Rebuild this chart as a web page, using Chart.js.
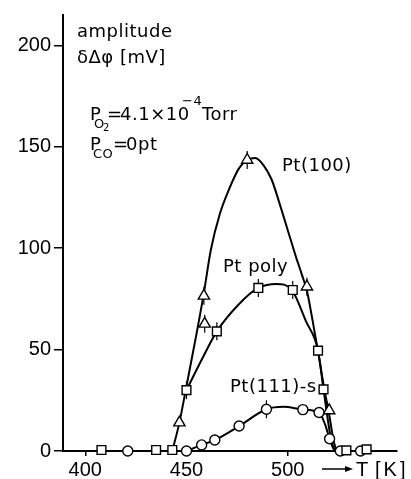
<!DOCTYPE html>
<html>
<head>
<meta charset="utf-8">
<script src="https://cdn.jsdelivr.net/npm/chart.js@4/dist/chart.umd.min.js"></script>
<style>
  body { margin: 0; background: #fff; }
  #wrap { width: 411px; height: 479px; position: relative; }
</style>
</head>
<body>
<div id="wrap"><canvas id="chart"></canvas></div>
<script>
// measured markers (T in K, amplitude in mV)
const triT = [446.5, 458.6, 459, 480, 509.5, 520.5];
const triV = [14, 76.5, 62.7, 143.5, 81, 20];
const sqT = [408, 435, 443, 450, 465, 485.5, 502.5, 515, 517.7, 529, 539];
const sqV = [0.5, 0.5, 0.5, 30, 59, 80.4, 79.4, 49.5, 30.4, 0.3, 0.8];
const circT = [421, 450, 457.5, 464, 476, 489.5, 507.5, 515.5, 520.7, 526, 536];
const circV = [0, 0, 3, 5.4, 12.3, 20.6, 20.4, 19, 6, 0, 0];

// error bar ticks
const errT = [450, 458.6, 459, 465, 480, 485.5, 489.5, 502.5, 509.5];
const errV = [30, 76.5, 62.7, 59, 143.5, 80.4, 20.6, 79.4, 81];

// drawn curves
const c100T = [443, 446.5, 450, 455, 458.6, 462, 466.5, 471, 476, 480, 484, 488, 492, 496, 500, 504, 507, 509.5, 512, 515, 518, 520.5, 522.5, 524];
const c100V = [0, 14, 32, 58, 78, 99, 117, 129, 139.5, 143.5, 144.5, 141, 134, 122, 109, 96, 87, 79, 66, 49, 31, 18, 6, 0];
const cPolyT = [450, 458, 465, 476, 485.5, 494.5, 502, 509, 515, 517.7, 521, 523];
const cPolyV = [30, 46, 59, 72.5, 80.4, 82.4, 79.4, 64, 49.5, 30.4, 8, 0];
const c111T = [450, 457.5, 464, 476, 489.5, 498, 507.5, 515.5, 518.5, 520.7, 522.5, 524];
const c111V = [0, 3, 5.4, 12.3, 20.6, 21.8, 20.5, 19, 13, 6, 1.5, 0];

const yTicks = [0, 50, 100, 150, 200];
const xTicks = [400, 450, 500];

function pts(xs, ys) {
  return xs.map((x, i) => ({ x: x, y: ys[i] }));
}

function marker(data, style, r) {
  return {
    data: data, showLine: false, pointStyle: style, pointRadius: r,
    pointBackgroundColor: "#fff", pointBorderColor: "#000", pointBorderWidth: 1.4, clip: false,
  };
}

function curve(data) {
  return {
    data: data, showLine: true, borderColor: "#000", borderWidth: 2,
    pointRadius: 0, cubicInterpolationMode: "monotone", clip: false,
  };
}

// labels and little notes on the plot
const notes = {
  id: "notes",
  afterDraw(chart) {
    const ctx = chart.ctx;
    ctx.save();
    ctx.fillStyle = "#000";
    ctx.strokeStyle = "#000";
    ctx.textBaseline = "alphabetic";
    ctx.letterSpacing = "0.5px";
    const f = (s) => s + "px 'DejaVu Sans'";
    ctx.font = f(18);
    ctx.fillText("amplitude", 77, 37);
    ctx.fillText("\u03b4\u0394\u03c6 [mV]", 77, 63);

    ctx.fillText("P", 90, 120);
    ctx.font = f(13);
    ctx.fillText("O", 94, 128);
    ctx.font = f(10);
    ctx.fillText("2", 103, 131);
    ctx.font = f(18);
    ctx.fillText("=", 107, 120);
    ctx.fillText("4.1\u00d710", 120, 120);
    ctx.font = f(13);
    ctx.fillText("\u22124", 182, 105);
    ctx.font = f(18);
    ctx.fillText("Torr", 202, 120);

    ctx.fillText("P", 90, 150);
    ctx.font = f(13);
    ctx.fillText("CO", 93, 158);
    ctx.font = f(18);
    ctx.fillText("=", 113, 150);
    ctx.fillText("0pt", 126, 150);

    ctx.fillText("Pt(100)", 282, 171);
    ctx.fillText("Pt poly", 223, 272);
    ctx.fillText("Pt(111)-s", 230, 392);

    // T axis arrow
    ctx.lineWidth = 1.5;
    ctx.beginPath();
    ctx.moveTo(322, 469);
    ctx.lineTo(348, 469);
    ctx.stroke();
    ctx.beginPath();
    ctx.moveTo(353, 469);
    ctx.lineTo(345, 466);
    ctx.lineTo(345, 472);
    ctx.closePath();
    ctx.fill();
    ctx.font = "20px 'Liberation Sans'";
    ctx.letterSpacing = "3px";
    ctx.fillText("T", 356, 476);
    ctx.fillText("[K]", 375, 476);
    ctx.restore();
  },
};

new Chart(document.getElementById("chart"), {
  type: "scatter",
  data: {
    datasets: [
      marker(pts(triT, triV), "triangle", 6.5),
      marker(pts(sqT, sqV), "rect", 6.2),
      marker(pts(circT, circV), "circle", 5),
      {
        data: pts(errT, errV), showLine: false, pointStyle: "line", rotation: 90,
        pointRadius: 9, pointBorderColor: "#000", pointBorderWidth: 1.2, clip: false,
      },
      curve(pts(c100T, c100V)),
      curve(pts(cPolyT, cPolyV)),
      curve(pts(c111T, c111V)),
    ],
  },
  options: {
    responsive: true,
    maintainAspectRatio: false,
    animation: false,
    layout: { padding: { left: 0, right: 14, top: 13, bottom: 0 } },
    plugins: { legend: { display: false }, tooltip: { enabled: false } },
    scales: {
      x: {
        type: "linear",
        min: 389,
        max: 554,
        afterBuildTicks: (s) => { s.ticks = xTicks.map((v) => ({ value: v })); },
        afterFit: (s) => { s.height = 28; },
        border: { display: true, color: "#000", width: 2 },
        grid: { display: true, drawOnChartArea: false, color: "#000", lineWidth: 1.5, tickLength: 5 },
        ticks: { color: "#000", font: { family: "Liberation Sans", size: 20 }, padding: 2, maxRotation: 0 },
      },
      y: {
        min: 0,
        max: 215,
        afterBuildTicks: (s) => { s.ticks = yTicks.map((v) => ({ value: v })); },
        afterFit: (s) => { s.width = 63; },
        border: { display: true, color: "#000", width: 2 },
        grid: { display: true, drawOnChartArea: false, color: "#000", lineWidth: 1.5, tickLength: 9 },
        ticks: { color: "#000", font: { family: "Liberation Sans", size: 20 }, padding: 3 },
      },
    },
  },
  plugins: [notes],
});
</script>
</body>
</html>
